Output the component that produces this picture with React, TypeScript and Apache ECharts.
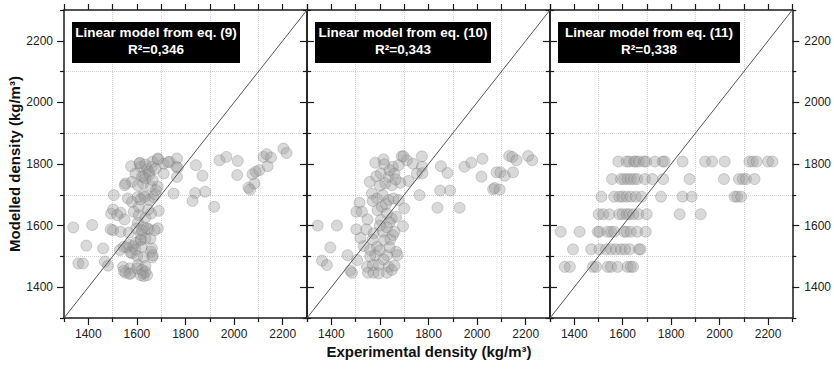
import React, { useEffect, useRef } from 'react';
import * as echarts from 'echarts';

// ---- axis / text content ----
const AXIS_MIN = 1300;
const AXIS_MAX = 2300;
const labelTicks = [1400, 1600, 1800, 2000, 2200];
const panelTitles = ['Linear model from eq. (9)', 'Linear model from eq. (10)', 'Linear model from eq. (11)'];
const panelR2 = ['0,346', '0,343', '0,338'];
const xTitle = 'Experimental density (kg/m³)';
const yTitle = 'Modelled density (kg/m³)';
const identityLine = [[1300, 1300], [2300, 2300]];

// ---- panel 1: eq. (9) ----
const eq9Exp = [1338, 1416, 1392, 1359, 1378, 1461, 1468, 1481, 1505, 1494, 1502, 1533, 1549, 1553, 1576, 1612, 1615, 1642, 1686, 1710, 1735, 1765, 1762, 1710, 1663, 1594, 1628, 1649, 1580, 1604, 1626, 1658, 1686, 1751, 1563, 1580, 1604, 1628, 1649, 1667, 1690, 1587, 1608, 1635, 1658, 1604, 1502, 1533, 1567, 1598, 1628, 1649, 1686, 1617, 1530, 1560, 1585, 1617, 1656, 1580, 1601, 1658, 1663, 1628, 1543, 1571, 1604, 1635, 1553, 1574, 1626, 1628, 1642, 1519, 1621, 1635, 1652, 1665, 1550, 1608, 1646, 1632, 1676, 1678, 1642, 1673, 1621, 1546, 1569, 1594, 1615, 1635, 1662, 1574, 1594, 1619, 1665, 1546, 1601, 1621, 1635, 1615, 1569, 1492, 1615, 1611, 1635, 1662, 1676, 1768, 1765, 1728, 1687, 1843, 1870, 1840, 1881, 1829, 1918, 1940, 1968, 2015, 2013, 2059, 2066, 2084, 2076, 2089, 2104, 2138, 2121, 2134, 2152, 2203, 2216];
const eq9Mod = [1594, 1602, 1535, 1477, 1477, 1526, 1483, 1470, 1699, 1639, 1652, 1642, 1620, 1737, 1793, 1804, 1791, 1782, 1818, 1801, 1807, 1818, 1791, 1769, 1807, 1769, 1758, 1775, 1742, 1731, 1737, 1728, 1726, 1704, 1688, 1677, 1693, 1699, 1683, 1693, 1648, 1645, 1634, 1626, 1639, 1609, 1585, 1580, 1577, 1591, 1594, 1588, 1591, 1572, 1521, 1529, 1533, 1553, 1558, 1510, 1501, 1515, 1497, 1497, 1466, 1461, 1472, 1469, 1447, 1445, 1445, 1436, 1439, 1634, 1760, 1753, 1767, 1748, 1731, 1661, 1652, 1693, 1701, 1715, 1591, 1585, 1585, 1531, 1537, 1544, 1555, 1558, 1526, 1513, 1523, 1531, 1504, 1453, 1461, 1456, 1450, 1439, 1443, 1588, 1685, 1802, 1798, 1791, 1785, 1788, 1758, 1806, 1815, 1796, 1762, 1706, 1710, 1680, 1661, 1812, 1823, 1810, 1764, 1723, 1717, 1737, 1767, 1775, 1780, 1793, 1823, 1832, 1821, 1850, 1836];

// ---- panel 2: eq. (10) ----
const eq10Exp = [1344, 1423, 1396, 1362, 1382, 1467, 1478, 1485, 1506, 1516, 1503, 1526, 1549, 1558, 1581, 1615, 1618, 1653, 1690, 1711, 1736, 1773, 1773, 1752, 1677, 1585, 1604, 1636, 1659, 1622, 1649, 1684, 1718, 1567, 1588, 1612, 1636, 1656, 1677, 1700, 1763, 1590, 1608, 1629, 1649, 1667, 1604, 1503, 1544, 1574, 1612, 1653, 1695, 1629, 1533, 1560, 1588, 1618, 1643, 1667, 1673, 1581, 1629, 1547, 1571, 1595, 1636, 1551, 1574, 1629, 1649, 1595, 1640, 1665, 1600, 1570, 1625, 1640, 1600, 1660, 1570, 1600, 1640, 1560, 1615, 1520, 1660, 1775, 1697, 1851, 1878, 1848, 1889, 1837, 1928, 1948, 1976, 2022, 2018, 2066, 2073, 2093, 2080, 2096, 2114, 2148, 2132, 2145, 2162, 2210, 2227];
const eq10Mod = [1600, 1600, 1529, 1486, 1472, 1504, 1454, 1447, 1488, 1674, 1645, 1645, 1620, 1742, 1804, 1815, 1799, 1791, 1825, 1812, 1801, 1825, 1791, 1769, 1796, 1760, 1769, 1758, 1769, 1737, 1731, 1739, 1745, 1704, 1688, 1699, 1683, 1688, 1683, 1656, 1699, 1650, 1661, 1639, 1623, 1629, 1618, 1588, 1588, 1575, 1580, 1569, 1598, 1594, 1534, 1521, 1531, 1553, 1555, 1515, 1504, 1504, 1504, 1466, 1472, 1472, 1466, 1447, 1447, 1447, 1456, 1445, 1780, 1750, 1730, 1680, 1670, 1610, 1600, 1580, 1555, 1520, 1530, 1500, 1490, 1560, 1470, 1770, 1825, 1793, 1771, 1714, 1714, 1658, 1658, 1791, 1804, 1817, 1759, 1718, 1722, 1717, 1773, 1773, 1762, 1773, 1826, 1823, 1812, 1826, 1812];

// ---- panel 3: eq. (11) ----
const eq11Exp = [
  1582, 1616, 1627, 1647, 1654, 1667, 1688, 1697, 1733, 1765, 1773, 1847, 1940, 1969, 2021, 2123, 2137, 2153, 2200, 2218,
  1556, 1593, 1606, 1620, 1633, 1647, 1660, 1692, 1722, 1767, 1876, 2018, 2080, 2096, 2109, 2144,
  1512, 1565, 1586, 1599, 1616, 1633, 1654, 1678, 1758, 1847, 1885, 2062, 2073, 2089,
  1501, 1520, 1545, 1586, 1599, 1616, 1627, 1644, 1665, 1699, 1835, 1922,
  1344, 1422, 1497, 1504, 1538, 1552, 1565, 1606, 1616, 1633, 1660, 1695,
  1395, 1470, 1504, 1531, 1552, 1572, 1593, 1610, 1629, 1667, 1674,
  1361, 1382, 1477, 1490, 1538, 1552, 1579, 1620, 1633, 1643,
];
const eq11Mod = [
  1808, 1808, 1808, 1808, 1808, 1808, 1808, 1808, 1808, 1808, 1808, 1808, 1808, 1808, 1808, 1808, 1808, 1808, 1808, 1808,
  1751, 1751, 1751, 1751, 1751, 1751, 1751, 1751, 1751, 1751, 1751, 1751, 1751, 1751, 1751, 1751,
  1694, 1694, 1694, 1694, 1694, 1694, 1694, 1694, 1694, 1694, 1694, 1694, 1694, 1694,
  1637, 1637, 1637, 1637, 1637, 1637, 1637, 1637, 1637, 1637, 1637, 1637,
  1580, 1580, 1580, 1580, 1580, 1580, 1580, 1580, 1580, 1580, 1580, 1580,
  1523, 1523, 1523, 1523, 1523, 1523, 1523, 1523, 1523, 1523, 1523,
  1466, 1466, 1466, 1466, 1466, 1466, 1466, 1466, 1466, 1466,
];

const panelExp = [eq9Exp, eq10Exp, eq11Exp];
const panelMod = [eq9Mod, eq10Mod, eq11Mod];

// ---- layout (not data) ----
const GRID_TOP = 10;
const GRID_HEIGHT = 308;
const gridBoxes = [
  { left: 64, width: 243 },
  { left: 307, width: 243 },
  { left: 550, width: 245 },
];
const labelBoxes = [
  { x: 72, w: 168 },
  { x: 315, w: 176 },
  { x: 558, w: 182 },
];

const INK = '#1a1a1a';
const FONT = '"Liberation Sans", Arial, Helvetica, sans-serif';

function tickFmt(v: number) {
  return v % 200 === 0 ? String(v) : '';
}

function buildXAxes(g: number) {
  const base = { gridIndex: g, type: 'value', min: AXIS_MIN, max: AXIS_MAX };
  return [
    {
      ...base,
      position: 'bottom',
      interval: 100,
      axisLine: { show: true, onZero: false, lineStyle: { color: INK, width: 1.5 } },
      axisTick: { show: true, length: 7, customValues: labelTicks, lineStyle: { color: INK, width: 1.2 } },
      axisLabel: { show: true, customValues: labelTicks, formatter: tickFmt, fontSize: 12, fontFamily: FONT, color: '#222', margin: 10 },
      splitLine: { show: false },
    },
    {
      ...base,
      position: 'bottom',
      interval: 200,
      axisLine: { show: false },
      axisTick: { show: true, length: 4, lineStyle: { color: INK, width: 1.2 } },
      axisLabel: { show: false },
      splitLine: { show: true, showMinLine: false, showMaxLine: false, lineStyle: { color: '#d0d0d0', type: 'dotted', width: 1 } },
    },
    {
      ...base,
      position: 'top',
      interval: 100,
      axisLine: { show: true, onZero: false, lineStyle: { color: INK, width: 1.5 } },
      axisTick: { show: true, length: 6, lineStyle: { color: INK, width: 1.2 } },
      axisLabel: { show: false },
      splitLine: { show: false },
    },
  ];
}

function buildYAxes(g: number) {
  const base = { gridIndex: g, type: 'value', min: AXIS_MIN, max: AXIS_MAX };
  const major = (pos: string, showLabel: boolean, margin: number) => ({
    ...base,
    position: pos,
    interval: 100,
    axisLine: { show: true, onZero: false, lineStyle: { color: INK, width: 1.5 } },
    axisTick: { show: true, length: 7, customValues: labelTicks, lineStyle: { color: INK, width: 1.2 } },
    axisLabel: { show: showLabel, customValues: labelTicks, formatter: tickFmt, fontSize: 12, fontFamily: FONT, color: '#222', margin },
    splitLine: { show: false },
  });
  const minor = (pos: string, grid: boolean) => ({
    ...base,
    position: pos,
    interval: 200,
    axisLine: { show: false },
    axisTick: { show: true, length: 4, lineStyle: { color: INK, width: 1.2 } },
    axisLabel: { show: false },
    splitLine: { show: grid, showMinLine: false, showMaxLine: false, lineStyle: { color: '#d0d0d0', type: 'dotted', width: 1 } },
  });
  return [
    major('left', g === 0, 11),
    minor('left', true),
    major('right', g === 2, 12),
    minor('right', false),
  ];
}

export default function App() {
  const ref = useRef<HTMLDivElement>(null);

  useEffect(() => {
    if (!ref.current) return;
    const chart = echarts.init(ref.current, undefined, { renderer: 'svg' });

    const grids = gridBoxes.map((b) => ({ left: b.left, width: b.width, top: GRID_TOP, height: GRID_HEIGHT, containLabel: false }));
    const xAxis: any[] = [];
    const yAxis: any[] = [];
    const series: any[] = [];
    gridBoxes.forEach((_, g) => {
      xAxis.push(...buildXAxes(g));
      yAxis.push(...buildYAxes(g));
    });
    gridBoxes.forEach((_, g) => {
      const data = panelExp[g].map((x, i) => [x, panelMod[g][i]]);
      series.push({
        type: 'scatter',
        xAxisIndex: g * 3,
        yAxisIndex: g * 4,
        data,
        symbol: 'circle',
        symbolSize: 11,
        itemStyle: { color: 'rgba(155,155,155,0.48)', borderColor: 'rgba(110,110,110,0.45)', borderWidth: 0.8 },
        emphasis: { disabled: true },
        z: 2,
      });
      series.push({
        type: 'line',
        xAxisIndex: g * 3,
        yAxisIndex: g * 4,
        data: identityLine,
        symbol: 'none',
        lineStyle: { color: '#555', width: 1 },
        z: 3,
      });
    });

    const graphic: any[] = [];
    labelBoxes.forEach((b, g) => {
      graphic.push({
        type: 'rect',
        shape: { x: b.x, y: 22, width: b.w, height: 41 },
        style: { fill: '#000' },
        z: 10,
      });
      graphic.push({
        type: 'text',
        x: b.x + b.w / 2,
        y: 41,
        z: 11,
        style: {
          text: panelTitles[g] + '\nR²=' + panelR2[g],
          fill: '#fff',
          font: 'bold 13.5px ' + FONT,
          align: 'center',
          verticalAlign: 'middle',
          textAlign: 'center',
          textVerticalAlign: 'middle',
          lineHeight: 16.5,
        },
      });
    });
    graphic.push({
      type: 'text',
      x: 14,
      y: 164,
      rotation: Math.PI / 2,
      style: {
        text: yTitle,
        fill: '#111',
        font: 'bold 15px ' + FONT,
        align: 'center',
        verticalAlign: 'middle',
        textAlign: 'center',
        textVerticalAlign: 'middle',
      },
    });
    graphic.push({
      type: 'text',
      x: 429,
      y: 351,
      style: {
        text: xTitle,
        fill: '#111',
        font: 'bold 15px ' + FONT,
        align: 'center',
        verticalAlign: 'middle',
        textAlign: 'center',
        textVerticalAlign: 'middle',
      },
    });

    chart.setOption({
      animation: false,
      backgroundColor: '#fff',
      grid: grids,
      xAxis,
      yAxis,
      series,
      graphic,
    });

    return () => chart.dispose();
  }, []);

  return <div ref={ref} style={{ position: 'absolute', left: 0, top: 0, width: 834, height: 369 }} />;
}
